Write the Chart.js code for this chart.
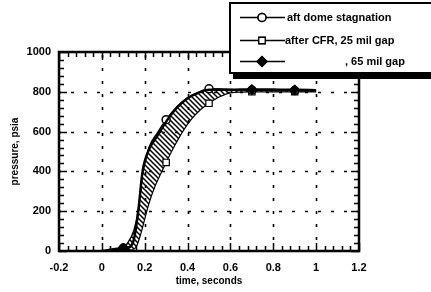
<!DOCTYPE html>
<html>
<head>
<meta charset="utf-8">
<script src="https://cdn.jsdelivr.net/npm/chart.js@4/dist/chart.umd.min.js"></script>
<style>
  html, body { margin: 0; padding: 0; background: #fff; }
  #wrap { width: 431px; height: 292px; position: relative; }
</style>
</head>
<body>
<div id="wrap"><canvas id="chart" width="431" height="292"></canvas></div>
<script>
// time (s) / pressure (psia)
const circleT = [0, 0.1, 0.12, 0.15, 0.17, 0.19, 0.22, 0.26, 0.3, 0.35, 0.4, 0.45, 0.5, 0.6, 0.7, 0.8, 0.9, 1.0];
const circleP = [0, 15, 40, 105, 205, 390, 520, 595, 660, 725, 770, 797, 815, 812, 808, 807, 806, 805];
const squareT = [0, 0.1, 0.14, 0.16, 0.18, 0.2, 0.22, 0.25, 0.28, 0.3, 0.34, 0.38, 0.42, 0.46, 0.5, 0.55, 0.6, 0.7, 0.8, 0.9, 1.0];
const squareP = [0, 3, 5, 20, 80, 160, 240, 330, 400, 445, 530, 605, 665, 710, 742, 775, 795, 800, 800, 800, 800];
const diamondT = [0, 0.1, 0.13, 0.15, 0.17, 0.19, 0.22, 0.26, 0.3, 0.35, 0.4, 0.45, 0.5, 0.6, 0.7, 0.8, 0.9, 1.0];
const diamondP = [0, 15, 20, 60, 200, 400, 510, 580, 650, 720, 768, 795, 810, 810, 812, 811, 810, 808];
const circleMarkT = [0.1, 0.3, 0.5, 0.7, 0.9];
const squareMarkT = [0.1, 0.3, 0.5, 0.7, 0.9];
const diamondMarkT = [0.1, 0.7, 0.9];

const seriesNames = ["aft dome stagnation", "after CFR, 25 mil gap", ", 65 mil gap"];
const xTicks = [-0.2, 0, 0.2, 0.4, 0.6, 0.8, 1, 1.2];
const yTicks = [0, 200, 400, 600, 800, 1000];

const FONT = "'Liberation Sans', Arial, sans-serif";
const pts = (ts, ps) => ts.map((t, i) => ({ x: t, y: ps[i] }));
const markerSize = (marks, r) => (c) => (c.raw && marks.includes(c.raw.x) ? r : 0);

// backslash hatching for the band between the two curves
const tile = document.createElement("canvas");
tile.width = tile.height = 5;
const tc = tile.getContext("2d");
tc.strokeStyle = "#000";
tc.lineWidth = 1.5;
tc.beginPath();
tc.moveTo(-1, -1); tc.lineTo(6, 6);
tc.moveTo(-1, 4); tc.lineTo(1, 6);
tc.moveTo(4, -1); tc.lineTo(6, 1);
tc.stroke();
const hatch = document.getElementById("chart").getContext("2d").createPattern(tile, "repeat");

// grid, inward ticks, frame and legend
const framePlugin = {
  id: "frame",
  beforeDatasetsDraw(chart) {
    const { ctx, chartArea: a, scales: { x, y } } = chart;
    ctx.save();
    ctx.strokeStyle = "#000";
    ctx.lineWidth = 1.6;
    ctx.setLineDash([3, 10]);
    yTicks.slice(1, -1).forEach((v) => {
      const py = Math.round(y.getPixelForValue(v)) + 0.5;
      ctx.lineDashOffset = 1;
      ctx.beginPath(); ctx.moveTo(a.left, py); ctx.lineTo(a.right, py); ctx.stroke();
    });
    xTicks.slice(1, -1).forEach((v) => {
      const px = Math.round(x.getPixelForValue(v)) + 0.5;
      ctx.lineDashOffset = 2;
      ctx.beginPath(); ctx.moveTo(px, a.bottom); ctx.lineTo(px, a.top); ctx.stroke();
    });
    ctx.restore();
  },
  afterDraw(chart) {
    const { ctx, chartArea: a, scales: { x, y } } = chart;
    ctx.save();
    ctx.strokeStyle = "#000";
    ctx.lineWidth = 1.5;
    ctx.beginPath();
    for (let v = -0.2; v <= 1.2001; v += 0.04) {
      const px = Math.round(x.getPixelForValue(v)) + 0.5;
      const major = Math.abs(v / 0.2 - Math.round(v / 0.2)) < 1e-6;
      const len = major ? 8 : 5;
      ctx.moveTo(px, a.bottom); ctx.lineTo(px, a.bottom - len);
      ctx.moveTo(px, a.top); ctx.lineTo(px, a.top + len);
    }
    for (let v = 0; v <= 1000.01; v += 40) {
      const py = Math.round(y.getPixelForValue(v)) + 0.5;
      const len = v % 200 === 0 ? 8 : 5;
      ctx.moveTo(a.left, py); ctx.lineTo(a.left + len, py);
      ctx.moveTo(a.right, py); ctx.lineTo(a.right - len, py);
    }
    ctx.stroke();
    ctx.lineWidth = 2.5;
    ctx.strokeRect(a.left, a.top, a.right - a.left, a.bottom - a.top);

    // legend box
    const bx = 230, by = 3, bw = 210, bh = 70;
    ctx.fillStyle = "#fff";
    ctx.fillRect(bx, by, bw, bh);
    ctx.lineWidth = 2;
    ctx.strokeRect(bx, by, bw, bh);
    ctx.fillStyle = "#000";
    ctx.fillRect(bx + 3, by + bh, bw, 6);
    const rowY = [17, 40, 61];
    const textX = [287, 285, 345];
    chart.data.datasets.forEach((ds, i) => {
      const ly = rowY[i] + 0.5;
      ctx.strokeStyle = "#000";
      ctx.lineWidth = 1.5;
      ctx.setLineDash([]);
      ctx.beginPath(); ctx.moveTo(240, ly); ctx.lineTo(285, ly); ctx.stroke();
      Chart.helpers.drawPoint(ctx, {
        pointStyle: ds.pointStyle, radius: ds.legendRadius, borderWidth: ds.pointBorderWidth, rotation: 0
      }, 262, ly);
      ctx.fillStyle = ds.pointBackgroundColor;
      ctx.strokeStyle = "#000";
      ctx.lineWidth = ds.pointBorderWidth;
      ctx.fill(); ctx.stroke();
      ctx.fillStyle = "#000";
      ctx.font = "bold 11px " + FONT;
      ctx.textBaseline = "middle";
      ctx.fillText(seriesNames[i], textX[i], ly);
    });
    ctx.restore();
  }
};

new Chart(document.getElementById("chart"), {
  type: "line",
  data: {
    datasets: [
      {
        label: seriesNames[0],
        data: pts(circleT, circleP),
        order: 2,
        borderColor: "#000", borderWidth: 1.5,
        pointStyle: "circle", pointRadius: markerSize(circleMarkT, 4), legendRadius: 4,
        pointBackgroundColor: "#fff", pointBorderColor: "#000", pointBorderWidth: 1.5,
        cubicInterpolationMode: "monotone", fill: false
      },
      {
        label: seriesNames[1],
        data: pts(squareT, squareP),
        order: 3,
        borderColor: "#000", borderWidth: 1.2,
        pointStyle: "rect", pointRadius: markerSize(squareMarkT, 4.5), legendRadius: 4.5,
        pointBackgroundColor: "#fff", pointBorderColor: "#000", pointBorderWidth: 1.2,
        cubicInterpolationMode: "monotone",
        fill: { target: 0 }, backgroundColor: hatch
      },
      {
        label: seriesNames[2],
        data: pts(diamondT, diamondP),
        order: 1,
        borderColor: "#000", borderWidth: 2.5,
        pointStyle: "rectRot", pointRadius: markerSize(diamondMarkT, 5), legendRadius: 5,
        pointBackgroundColor: "#000", pointBorderColor: "#000", pointBorderWidth: 1,
        cubicInterpolationMode: "monotone", fill: false
      }
    ]
  },
  options: {
    animation: false,
    responsive: false,
    layout: { padding: { top: 52, right: 72, left: 0, bottom: 0 } },
    plugins: { legend: { display: false }, tooltip: { enabled: false } },
    scales: {
      x: {
        type: "linear", min: -0.2, max: 1.2,
        afterBuildTicks: (s) => { s.ticks = xTicks.map((v) => ({ value: v })); },
        afterFit: (s) => { s.height = 41; },
        grid: { display: false, drawTicks: false },
        border: { display: false },
        ticks: {
          padding: 10, color: "#000", font: { family: FONT, size: 11, weight: "bold" },
          maxRotation: 0,
          callback: (v) => String(Number(v.toFixed(1)))
        },
        title: { display: true, text: "time, seconds", color: "#000", padding: { top: 0, bottom: 5 },
          font: { family: FONT, size: 10, weight: "bold" } }
      },
      y: {
        type: "linear", min: 0, max: 1000,
        afterBuildTicks: (s) => { s.ticks = yTicks.map((v) => ({ value: v })); },
        afterFit: (s) => { s.width = 59; },
        grid: { display: false, drawTicks: false },
        border: { display: false },
        ticks: { padding: 8, color: "#000", font: { family: FONT, size: 11, weight: "bold" },
          callback: (v) => String(v) },
        title: { display: true, text: "pressure, psia", color: "#000", padding: { top: 9, bottom: 0 },
          font: { family: FONT, size: 10, weight: "bold" } }
      }
    }
  },
  plugins: [framePlugin]
});
</script>
</body>
</html>
